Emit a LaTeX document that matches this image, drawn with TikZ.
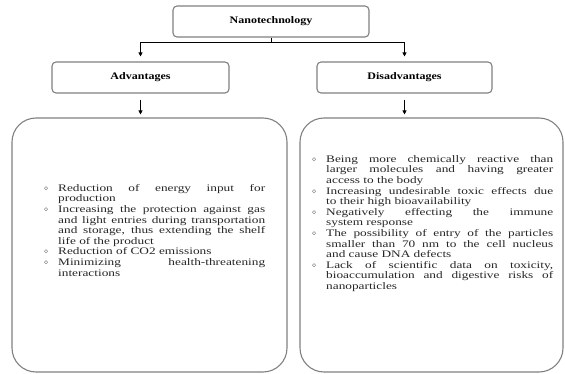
\documentclass[tikz,border=0pt]{standalone}
\usepackage{fontspec}
\setmainfont{Liberation Serif}[FakeStretch=1.33]
\newfontfamily\headfont{Liberation Serif}[FakeStretch=1.2]
\usetikzlibrary{arrows.meta,positioning}

\tikzset{
  headbox/.style={draw=gray, line width=1.1pt, rounded corners=4pt, fill=white,
    font=\headfont\fontsize{10}{11}\selectfont\bfseries, minimum height=31pt},
  listbox/.style={draw=gray, line width=1.1pt, rounded corners=24pt, minimum height=254pt},
  listtext/.style={anchor=north west, inner sep=0pt, align=justify, text=black!85,
    font=\fontsize{10}{10.6}\selectfont},
  arr/.style={-{Triangle[length=4pt,width=4pt]}, line width=0.9pt}
}

\newenvironment{pointlist}[1]{%
  \hyphenpenalty=10000\relax
  \begin{list}{\raisebox{1pt}{\scriptsize$\diamond$}}{\leftmargin=#1 \labelsep=10pt
    \labelwidth=\dimexpr#1-10pt\relax \itemsep=0pt \parsep=0pt \topsep=0pt
    \partopsep=0pt \itemindent=0pt}}{\end{list}}

\begin{document}
\begin{tikzpicture}[x=1pt, y=-1pt]
  \useasboundingbox (0,0) rectangle (565,374);

  % Heading boxes
  \node[headbox, minimum width=196pt] (nano) at (271,21.5) {Nanotechnology};
  \node[headbox, minimum width=177pt] (adv) at (140.5,77.5) {Advantages};
  \node[headbox, minimum width=175pt] (dis) at (404.5,77.5) {Disadvantages};

  % Large rounded boxes
  \node[listbox, minimum width=275pt] (advbox) at (149.5,245) {};
  \node[listbox, minimum width=263pt] (disbox) at (431.5,245) {};

  % Split arrows from the top box
  \draw[line width=0.9pt] (nano.south) -- ++(0,4.5) coordinate (split);
  \draw[arr, shorten >=5pt] (split) -| (adv.north);
  \draw[arr, shorten >=5pt] (split) -| (dis.north);

  % Arrows into the lists
  \draw[arr, shorten <=6pt, shorten >=3pt] (adv.south) -- (adv.south |- advbox.north);
  \draw[arr, shorten <=6pt, shorten >=3pt] (dis.south) -- (dis.south |- disbox.north);

  % List texts
  \node[listtext, text width=233pt] (advtext) at (32,180.5) {%
    \begin{pointlist}{26pt}
      \item Reduction of energy input for\linebreak production
      \item Increasing the protection against gas\linebreak and light entries during transportation\linebreak and storage, thus extending the shelf\linebreak life of the product
      \item Reduction of CO2 emissions
      \item Minimizing health-threatening\linebreak interactions
    \end{pointlist}};
  \node[listtext, text width=249pt] (distext) at (304,151.5) {%
    \begin{pointlist}{22pt}
      \item Being more chemically reactive than\linebreak larger molecules and having greater\linebreak access to the body
      \item Increasing undesirable toxic effects due\linebreak to their high bioavailability
      \item Negatively effecting the immune\linebreak system response
      \item The possibility of entry of the particles\linebreak smaller than 70 nm to the cell nucleus\linebreak and cause DNA defects
      \item Lack of scientific data on toxicity,\linebreak bioaccumulation and digestive risks of\linebreak nanoparticles
    \end{pointlist}};
\end{tikzpicture}
\end{document}
